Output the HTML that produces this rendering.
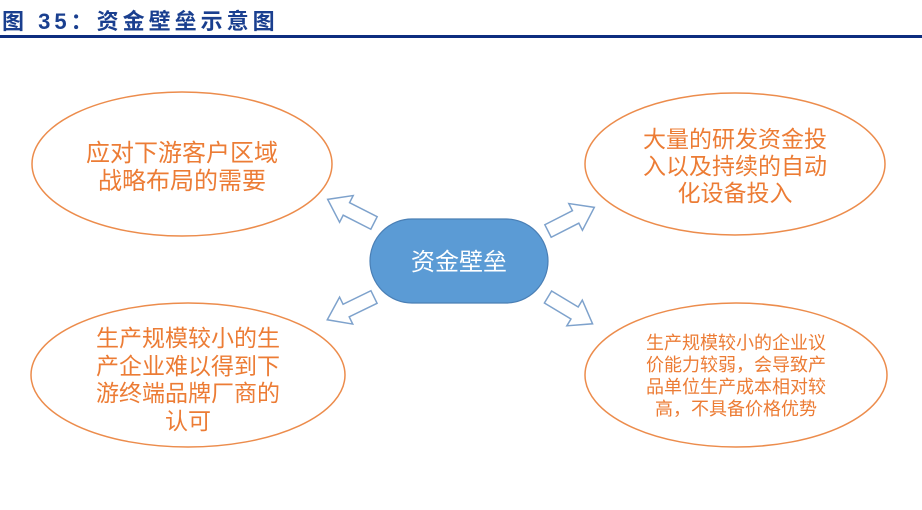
<!DOCTYPE html>
<html><head><meta charset="utf-8"><style>
body{margin:0;width:922px;height:510px;background:#fff;overflow:hidden;position:relative;font-family:"Liberation Sans","Noto Sans CJK SC",sans-serif}
.title{position:absolute;left:2px;top:4px;font-size:22px;font-weight:bold;color:#1a3f8f;letter-spacing:4px;font-family:"Liberation Sans","Noto Sans CJK SC",sans-serif}
.line{position:absolute;left:0;top:35px;width:922px;height:3px;background:#0d2d7f}
.t{position:absolute;text-align:center;color:#ec7c35;font-family:"Noto Sans CJK SC",sans-serif}
</style></head><body>
<div class="title">图 35：资金壁垒示意图</div>
<div class="line"></div>
<svg width="922" height="510" style="position:absolute;left:0;top:0">
<g fill="none" stroke="#ec8c4c" stroke-width="1.5">
<ellipse cx="182" cy="164" rx="150" ry="72"/>
<ellipse cx="735" cy="164" rx="150" ry="71"/>
<ellipse cx="188" cy="375" rx="157" ry="72"/>
<ellipse cx="736" cy="375" rx="151" ry="72"/>
</g>
<rect x="370" y="219" width="178" height="84" rx="42" fill="#5b9bd5" stroke="#4a7fb5" stroke-width="1.2"/>
<g fill="#fff" stroke="#7ea2cc" stroke-width="1.5">
<polygon points="0,-7 31,-7 31,-15 52,0 31,15 31,7 0,7" transform="translate(374,223) rotate(207)"/>
<polygon points="0,-7 31,-7 31,-15 52,0 31,15 31,7 0,7" transform="translate(548,231) rotate(-27)"/>
<polygon points="0,-7 31,-7 31,-15 52,0 31,15 31,7 0,7" transform="translate(374,297) rotate(154)"/>
<polygon points="0,-7 31,-7 31,-15 52,0 31,15 31,7 0,7" transform="translate(548,297) rotate(31)"/>
</g>
</svg>
<div class="t" style="left:370px;top:244px;width:178px;font-size:24px;line-height:32px;color:#fff">资金壁垒</div>
<div class="t" style="left:62px;top:137px;width:240px;font-size:24px;line-height:28px">应对下游客户区域<br>战略布局的需要</div>
<div class="t" style="left:615px;top:124px;width:240px;font-size:23px;line-height:27px">大量的研发资金投<br>入以及持续的自动<br>化设备投入</div>
<div class="t" style="left:68px;top:323px;width:240px;font-size:23px;line-height:27.5px">生产规模较小的生<br>产企业难以得到下<br>游终端品牌厂商的<br>认可</div>
<div class="t" style="left:636px;top:331px;width:200px;font-size:18px;line-height:22px">生产规模较小的企业议<br>价能力较弱，会导致产<br>品单位生产成本相对较<br>高，不具备价格优势</div>
</body></html>
